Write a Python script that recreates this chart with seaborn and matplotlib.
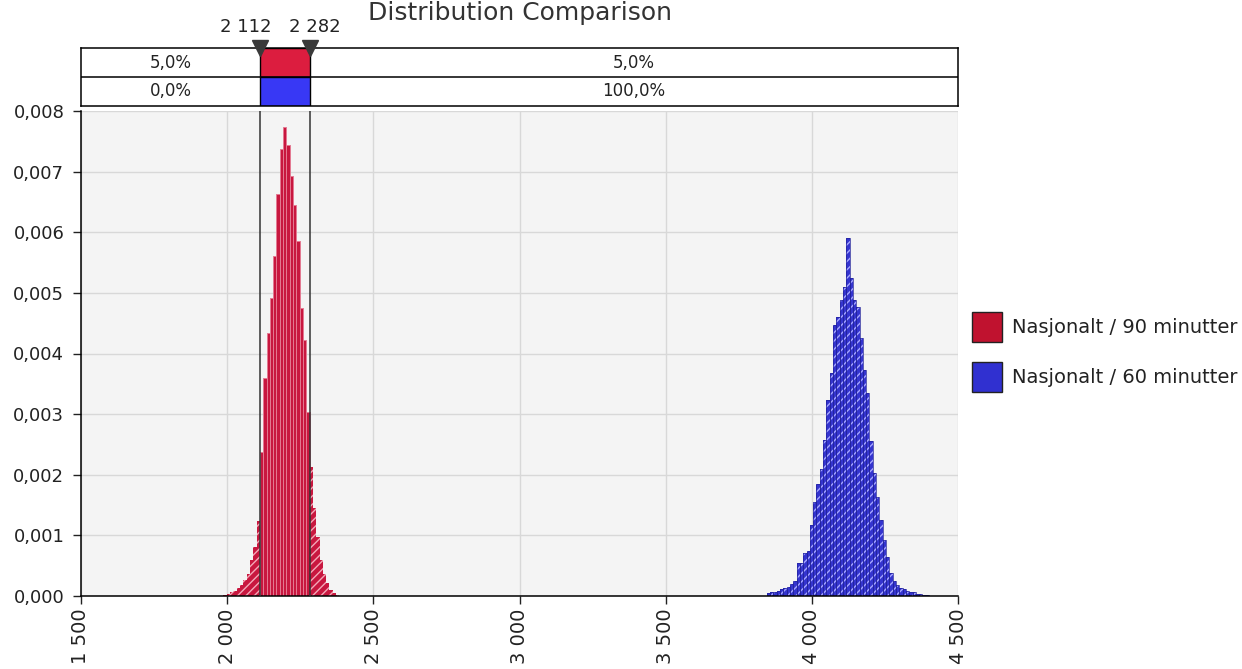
import numpy as np
import pandas as pd
import matplotlib.pyplot as plt
import seaborn as sns
from matplotlib.patches import Patch, Rectangle
from matplotlib.ticker import FuncFormatter

# Data
title = 'Distribution Comparison'
series_names = ['Nasjonalt / 90 minutter', 'Nasjonalt / 60 minutter']

bin_width = 11.33
red_first_edge = 1987.3
red_density = [0.00002, 0.00004, 0.00006, 0.00009, 0.00013, 0.00018, 0.00026,
               0.00037, 0.00059, 0.00081, 0.00123, 0.00238, 0.00360, 0.00433,
               0.00491, 0.00560, 0.00663, 0.00737, 0.00774, 0.00744, 0.00692,
               0.00645, 0.00585, 0.00475, 0.00422, 0.00304, 0.00213, 0.00145,
               0.00098, 0.00059, 0.00037, 0.00021, 0.00010, 0.00005, 0.00002]

blue_first_edge = 3846.0
blue_density = [0.00005, 0.00006, 0.00007, 0.00008, 0.00012, 0.00013, 0.00015,
                0.00020, 0.00024, 0.00054, 0.00054, 0.00071, 0.00075, 0.00117,
                0.00155, 0.00185, 0.00210, 0.00257, 0.00323, 0.00368, 0.00447,
                0.00461, 0.00488, 0.00510, 0.00590, 0.00524, 0.00488, 0.00477,
                0.00425, 0.00373, 0.00335, 0.00255, 0.00203, 0.00164, 0.00125,
                0.00092, 0.00065, 0.00038, 0.00024, 0.00018, 0.00014, 0.00011,
                0.00009, 0.00007, 0.00006, 0.00004, 0.00003, 0.00002, 0.00001]

delimiters = [2112, 2282]
red_band = ['5,0%', '5,0%']
blue_band = ['0,0%', '100,0%']

x_ticks = [1500, 2000, 2500, 3000, 3500, 4000, 4500]
y_ticks = [0.000, 0.001, 0.002, 0.003, 0.004, 0.005, 0.006, 0.007, 0.008]

# colours
RED = '#c8173f'
BLUE = '#3434cf'
TXT = '#222222'

sns.set_style('white')
plt.rcParams['font.family'] = ['DejaVu Sans']
plt.rcParams['hatch.linewidth'] = 1.0

W, H = 1242, 669
fig = plt.figure(figsize=(W / 100, H / 100), dpi=100)
ax = fig.add_axes([81 / W, 1 - 596 / H, 877 / W, 485 / H])
ax.set_facecolor('#f4f4f4')


def hist_table(first_edge, density):
    edges = first_edge + bin_width * np.arange(len(density) + 1)
    df = pd.DataFrame({'x': edges[:-1] + bin_width / 2, 'w': density})
    df['inside'] = (df.x > delimiters[0]) & (df.x < delimiters[1])
    df['grp'] = (df.inside != df.inside.shift()).cumsum()
    return df, edges


def draw_hist(ax, first_edge, density, inside_style, outside_style):
    df, edges = hist_table(first_edge, density)
    for _, part in df.groupby('grp'):
        i0, i1 = part.index[0], part.index[-1]
        style = inside_style if part.inside.iloc[0] else outside_style
        sns.histplot(data=part, x='x', weights='w',
                     bins=list(edges[i0:i1 + 2]), stat='count', ax=ax,
                     alpha=1, **style)


draw_hist(ax, red_first_edge, red_density,
          dict(color=RED, edgecolor='#e47a92', linewidth=0.7),
          dict(color=RED, edgecolor='#f4a8b8', linewidth=0, hatch='////'))
draw_hist(ax, blue_first_edge, blue_density,
          dict(color=BLUE),
          dict(color=BLUE, edgecolor='#a6a6ff', linewidth=0, hatch='////'))
# darker outlines on the blue bars
blue_df, blue_edges = hist_table(blue_first_edge, blue_density)
sns.histplot(data=blue_df, x='x', weights='w', bins=list(blue_edges),
             stat='count', ax=ax, fill=False, color='#22229a', linewidth=0.5)

for d in delimiters:
    ax.axvline(d, color='#333333', lw=1.1, zorder=5)

ax.set_xlim(x_ticks[0], x_ticks[-1])
ax.set_ylim(y_ticks[0], y_ticks[-1])
ax.set_xticks(x_ticks)
ax.set_yticks(y_ticks)
ax.xaxis.set_major_formatter(FuncFormatter(lambda v, p: f'{v:,.0f}'.replace(',', ' ')))
ax.yaxis.set_major_formatter(FuncFormatter(lambda v, p: f'{v:.3f}'.replace('.', ',')))
ax.tick_params(axis='x', rotation=90, length=6, width=1, pad=3, labelsize=14,
               colors=TXT, bottom=True)
ax.tick_params(axis='y', length=6, width=1, pad=6, labelsize=13, colors=TXT, left=True)
ax.set_xlabel('')
ax.set_ylabel('')
ax.grid(True, color='#d8d8d8', lw=1)
ax.set_axisbelow(True)
for s in ['top', 'right']:
    ax.spines[s].set_visible(False)
for s in ['left', 'bottom']:
    ax.spines[s].set_color('black')
    ax.spines[s].set_linewidth(1.1)

# band with percentages above the plot
band = fig.add_axes([81 / W, 1 - 106 / H, 877 / W, 58 / H])
band.set_xlim(x_ticks[0], x_ticks[-1])
band.set_ylim(0, 2)
band.set_xticks([])
band.set_yticks([])
for s in band.spines.values():
    s.set_color('black')
    s.set_linewidth(1.1)
band.axhline(1, color='black', lw=1.1)
band.add_patch(Rectangle((delimiters[0], 1), delimiters[1] - delimiters[0], 1,
                         facecolor='#dc1d3f', edgecolor='black', lw=1))
band.add_patch(Rectangle((delimiters[0], 0), delimiters[1] - delimiters[0], 1,
                         facecolor='#3838f5', edgecolor='black', lw=1))
left_mid = (x_ticks[0] + delimiters[0]) / 2
right_mid = (delimiters[1] + x_ticks[-1]) / 2
for row, labels in zip([1.5, 0.5], [red_band, blue_band]):
    band.text(left_mid, row, labels[0], ha='center', va='center', fontsize=12, color=TXT)
    band.text(right_mid, row, labels[1], ha='center', va='center', fontsize=12, color=TXT)

band.plot(delimiters, [2, 2], linestyle='none', marker='v', ms=11,
          color='#3a3a3a', clip_on=False, zorder=6)
# the two value labels are nudged apart so they do not collide
for d, dx in zip(delimiters, [-10, 4]):
    band.annotate(f'{d:,}'.replace(',', ' '), (d, 2), xytext=(dx, 15),
                  textcoords='offset points', ha='center', va='center',
                  fontsize=13, color=TXT, annotation_clip=False)

fig.text((81 + 877 / 2) / W, 1 - 1 / H, title, ha='center', va='top',
         fontsize=18, color='#333333')

handles = [Patch(facecolor='#c0122f', edgecolor='#222222', lw=1),
           Patch(facecolor='#3030d0', edgecolor='#222222', lw=1)]
fig.legend(handles, series_names, loc='center left',
           bbox_to_anchor=(972 / W, 1 - 352 / H), frameon=False, fontsize=14,
           handlelength=1.55, handleheight=2.0, labelspacing=1.03,
           handletextpad=0.5, borderpad=0, borderaxespad=0,
           labelcolor=TXT)

fig.savefig('out.png', dpi=100)
